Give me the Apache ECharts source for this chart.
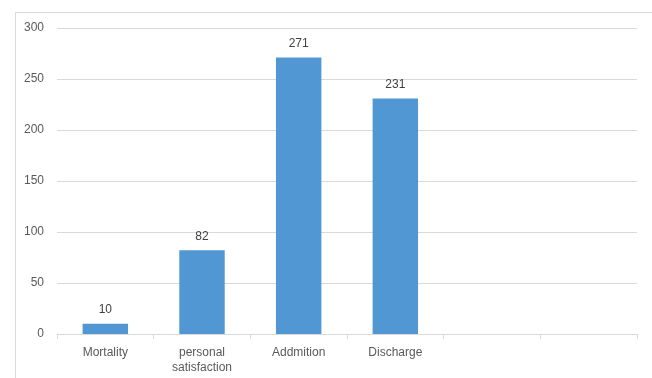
<!DOCTYPE html>
<html><head><meta charset="utf-8">
<script src="https://cdn.jsdelivr.net/npm/echarts@6/dist/echarts.min.js"></script>
<style>html,body{margin:0;padding:0;background:#fff}#c{width:652px;height:378px}</style>
</head><body><div id="c"></div>
<script>
const categories = ['Mortality', 'personal\nsatisfaction', 'Addmition', 'Discharge', '', ''];
const values = [10, 82, 271, 231, null, null];
const yTicks = { min: 0, max: 300, interval: 50 };

const chart = echarts.init(document.getElementById('c'), null, { renderer: 'canvas' });
chart.setOption({
  animation: false,
  backgroundColor: '#fff',
  textStyle: { fontFamily: 'Liberation Sans', color: '#595959' },
  graphic: [{
    type: 'rect', shape: { x: 15.5, y: 12.5, width: 700, height: 400 },
    style: { fill: 'none', stroke: '#d9d9d9', lineWidth: 1 }, z: -10
  }],
  grid: { left: 57, right: 15, top: 28, bottom: 44 },
  xAxis: {
    type: 'category', data: categories,
    axisLine: { lineStyle: { color: '#d9d9d9' } },
    axisTick: { show: true, length: 5, lineStyle: { color: '#d9d9d9' } },
    axisLabel: { color: '#595959', fontSize: 12, lineHeight: 15, margin: 11, interval: 0 }
  },
  yAxis: {
    type: 'value', min: yTicks.min, max: yTicks.max, interval: yTicks.interval,
    axisLine: { show: false }, axisTick: { show: false },
    splitLine: { lineStyle: { color: '#d9d9d9' } },
    axisLabel: { color: '#595959', fontSize: 12, margin: 13 }
  },
  series: [{
    type: 'bar', data: values, barWidth: '47%',
    itemStyle: { color: '#5197d4' },
    label: { show: true, position: 'top', distance: 8, color: '#404040', fontSize: 12 }
  }]
});
</script></body></html>
